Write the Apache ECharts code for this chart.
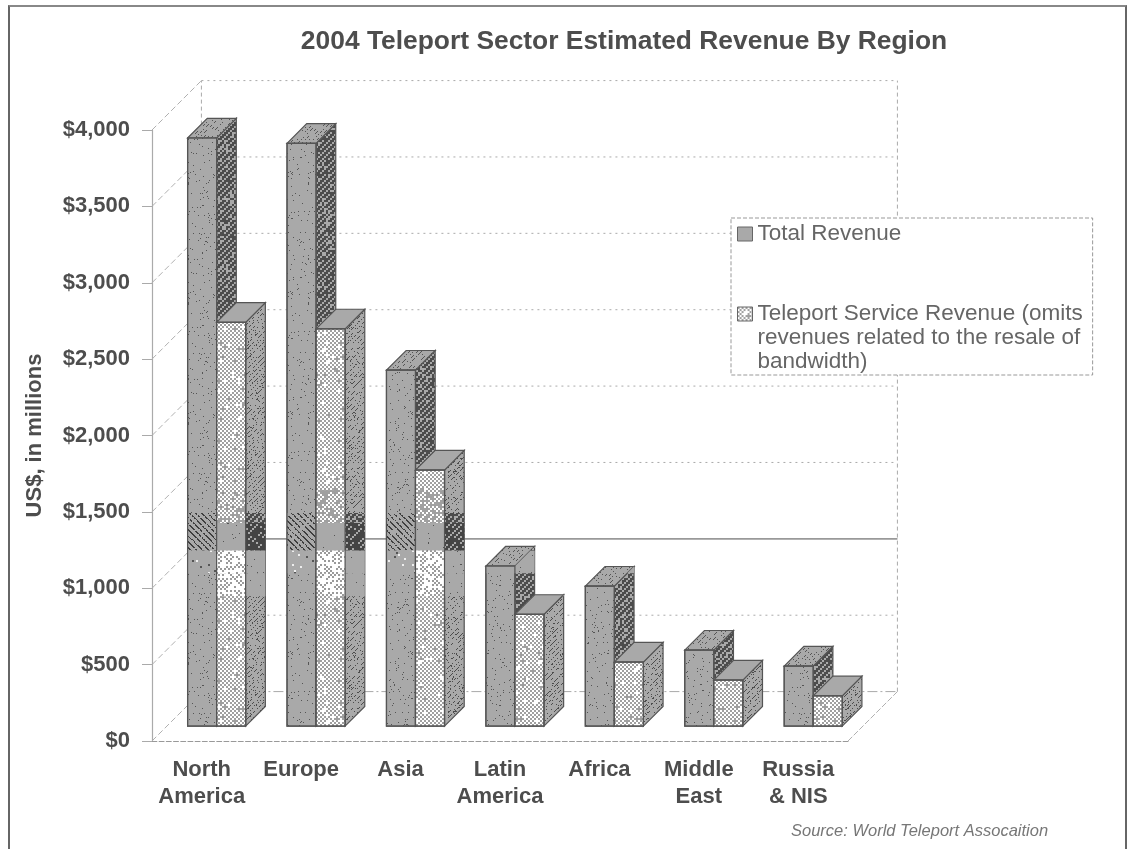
<!DOCTYPE html>
<html>
<head>
<meta charset="utf-8">
<style>
  html, body { margin: 0; padding: 0; background: #fff; overflow: hidden; }
  #frame { position: absolute; left: 8px; top: 5px; width: 1115px; height: 860px; border: 2px solid #666; border-top-color: #888; }
  #chart { position: absolute; left: 0; top: 0; width: 1127px; height: 849px; }
</style>
<script src="https://cdn.jsdelivr.net/npm/echarts@6/dist/echarts.min.js"></script>
</head>
<body>
<div id="frame"></div>
<div id="chart"></div>
<script>
// Revenue per region, US$ millions
const regions = ['North\nAmerica', 'Europe', 'Asia', 'Latin\nAmerica', 'Africa', 'Middle\nEast', 'Russia\n& NIS'];
const totalRevenue = [3850, 3815, 2330, 1047, 916, 497, 393];
const serviceRevenue = [2643, 2600, 1676, 731, 419, 301, 198];
const valueTicks = [0, 500, 1000, 1500, 2000, 2500, 3000, 3500, 4000];

const TOTAL_NAME = 'Total Revenue';
const SERVICE_NAME = '\n\nTeleport Service Revenue (omits\nrevenues related to the resale of\nbandwidth)';
const GREY = '#a9a9a9', DARK = '#4c4c4c', INK = '#555';

// Proportions of one category band used by the pseudo-3D projection
const WALL_DEPTH = 0.497, FLOOR_SHIFT = 0.15, BAR_WIDTH = 0.292, BAR_DEPTH = 0.198;

// Stippled fills in the manner of a photocopied print
function noise(x, y) {
  let h = Math.imul(x + 1, 0x9E3779B1) ^ Math.imul(y + 1, 0x85EBCA77);
  h ^= h >>> 15; h = Math.imul(h, 0xC2B2AE3D);
  h ^= h >>> 13; h = Math.imul(h, 0x27D4EB2F);
  h ^= h >>> 16;
  return (h >>> 0) / 4294967296;
}
function texture(base, cell, paint) {
  const c = document.createElement('canvas');
  c.width = c.height = 120;
  const g = c.getContext('2d');
  g.fillStyle = base;
  g.fillRect(0, 0, 120, 120);
  const n = 120 / cell;
  for (let y = 0; y < n; y++) {
    for (let x = 0; x < n; x++) {
      const col = paint(x, y, noise(x, y));
      if (col) { g.fillStyle = col; g.fillRect(x * cell, y * cell, cell, cell); }
    }
  }
  return { image: c, repeat: 'repeat' };
}
const up = (x, y, n) => (x + y) % n;
const down = (x, y, n) => (x - y + 1200) % n;

const fills = {
  totalFront: texture(GREY, 1, (x, y, r) => r < 0.03 ? INK : null),
  totalSide: texture(DARK, 2, (x, y, r) => up(x, y, 3) === 0 && r > 0.15 || r < 0.1 ? GREY : null),
  totalTop: texture(GREY, 1, (x, y, r) => up(x, y, 4) === 0 && r < 0.35 ? INK : null),
  serviceFront: texture('#fff', 2, (x, y, r) => up(x, y, 2) === 0 && r > 0.08 || r < 0.04 ? '#a0a0a0' : null),
  serviceSide: texture(GREY, 1, (x, y, r) => up(x, y, 5) === 0 && r < 0.45 ? DARK : (r > 0.97 ? DARK : null)),
  serviceTop: texture(GREY, 1, () => null),
  // toner bands across the tall bars
  totalFrontDark: texture(GREY, 1, (x, y, r) => down(x, y, 6) < 2 && r < 0.7 ? '#3f3f3f' : null),
  serviceFrontDark: texture(GREY, 1, (x, y, r) => r < 0.012 ? INK : null),
  sideDark: texture('#444', 2, (x, y, r) => up(x, y, 3) === 0 && r > 0.45 ? GREY : null),
  totalFrontLight: texture(GREY, 2, (x, y, r) => r < 0.04 ? '#eee' : r > 0.985 ? INK : null),
  serviceFrontLight: texture('#fff', 2, (x, y, r) => up(x, y, 2) === 0 && r < 0.6 ? '#9a9a9a' : null),
  sideLight: texture(GREY, 1, (x, y, r) => r < 0.01 ? INK : null),
  serviceFrontMid: texture('#fff', 2, (x, y, r) => up(x, y, 2) === 0 || r < 0.3 ? '#a0a0a0' : null)
};

// Value ranges of the toner bands, measured along a bar standing at zero
const tonerBands = [
  { from: 850, to: 1000, front: [null, 'serviceFrontLight'], side: [null, 'sideLight'] },
  { from: 1000, to: 1150, front: ['totalFrontLight', 'serviceFrontLight'], side: ['sideLight', 'sideLight'] },
  { from: 1150, to: 1330, front: ['totalFrontDark', 'serviceFrontDark'], side: ['sideDark', 'sideDark'] },
  { from: 1330, to: 1395, front: ['totalFrontDark', 'serviceFrontMid'], side: [null, 'totalSide'] },
  { from: 1395, to: 1545, front: [null, 'serviceFrontMid'], side: [null, null] }
];

function clipBand(points, top, bottom) {
  const cut = (pts, inside, limit) => {
    const out = [];
    pts.forEach((p, i) => {
      const q = pts[(i + 1) % pts.length];
      if (inside(p)) out.push(p);
      if (inside(p) !== inside(q)) {
        const t = (limit - p[1]) / (q[1] - p[1]);
        out.push([p[0] + t * (q[0] - p[0]), limit]);
      }
    });
    return out;
  };
  return cut(cut(points, p => p[1] >= top, top), p => p[1] <= bottom, bottom);
}

function poly(points, fill, stroke) {
  return {
    type: 'polygon',
    shape: { points },
    style: { fill, stroke: stroke || 'none', lineWidth: stroke ? 1.2 : 0 }
  };
}

// One projected box per category; slot 0 sits left of the band's centre line, slot 1 right of it
function renderBar(slot, frontKey, sideKey, topKey) {
  return function (params, api) {
    const band = api.size([1, 0])[0];
    const i = api.value(0);
    const centre = api.coord([i, 0]);
    const shift = band * FLOOR_SHIFT;
    const width = band * BAR_WIDTH, depth = band * BAR_DEPTH;
    const x0 = centre[0] + shift + (slot - 1) * width;
    const x1 = x0 + width;
    const yBase = centre[1] - shift;
    const yTop = api.coord([i, api.value(1)])[1] - shift;

    const front = [[x0, yTop], [x1, yTop], [x1, yBase], [x0, yBase]];
    const side = [[x1, yTop], [x1 + depth, yTop - depth], [x1 + depth, yBase - depth], [x1, yBase]];
    const top = [[x0, yTop], [x0 + depth, yTop - depth], [x1 + depth, yTop - depth], [x1, yTop]];

    const children = [
      poly(side, fills[sideKey], INK),
      poly(top, fills[topKey], INK),
      poly(front, fills[frontKey], INK)
    ];
    tonerBands.forEach(b => {
      const yA = api.coord([i, b.to])[1] - shift;
      const yB = api.coord([i, b.from])[1] - shift;
      if (b.side[slot]) {
        const s = clipBand(side, yA, yB);
        if (s.length > 2) children.push(poly(s, fills[b.side[slot]]));
      }
      if (b.front[slot]) {
        const f = clipBand(front, yA, yB);
        if (f.length > 2) children.push(poly(f, fills[b.front[slot]]));
      }
    });
    children.push({
      type: 'polygon', shape: { points: front },
      style: { fill: 'none', stroke: INK, lineWidth: 1.2 }
    });
    return { type: 'group', children };
  };
}

// Back wall, side wall and floor edges, hung off the two axes
function renderWalls(params, api) {
  const band = api.size([1, 0])[0];
  const v = api.value(1);
  const d = band * WALL_DEPTH;
  const xL = api.coord([0, v])[0] - band / 2;
  const xR = api.coord([regions.length - 1, v])[0] + band / 2;
  const y = api.coord([0, v])[1];
  const major = v === 1000;
  const soft = { stroke: '#aaa', lineWidth: 1, lineDash: [2, 4] };
  const children = [
    {
      type: 'line', shape: { x1: xL + d, y1: y - d, x2: xR + d, y2: y - d },
      style: major ? { stroke: '#999', lineWidth: 1.6 } : v === 0 ? { stroke: '#aaa', lineWidth: 1, lineDash: [10, 3, 2, 3] } : soft
    },
    {
      type: 'line', shape: { x1: xL, y1: y, x2: xL + d, y2: y - d },
      style: { stroke: '#b0b0b0', lineWidth: 1, lineDash: [6, 3] }
    }
  ];
  if (v === 0) {
    const yTop = api.coord([0, 4000])[1] - d;
    children.push(
      { type: 'line', shape: { x1: xR, y1: y, x2: xR + d, y2: y - d }, style: { stroke: '#b0b0b0', lineWidth: 1, lineDash: [6, 2] } },
      { type: 'line', shape: { x1: xR + d, y1: y - d, x2: xR + d, y2: yTop }, style: { stroke: '#aaa', lineWidth: 1, lineDash: [4, 3] } },
      { type: 'line', shape: { x1: xL + d, y1: y - d, x2: xL + d, y2: yTop }, style: { stroke: '#aaa', lineWidth: 1, lineDash: [4, 3] } }
    );
  }
  return { type: 'group', children };
}

const chart = echarts.init(document.getElementById('chart'), null, { renderer: 'canvas' });
const labelFont = 'Liberation Sans';

chart.setOption({
  animation: false,
  backgroundColor: 'transparent',
  title: [
    {
      text: '2004 Teleport Sector Estimated Revenue By Region',
      left: 619, top: 24, textAlign: 'center',
      textStyle: { fontFamily: labelFont, fontSize: 26.4, fontWeight: 'bold', color: '#4d4d4d' }
    },
    {
      text: 'Source: World Teleport Assocaition',
      left: 786, top: 818,
      textStyle: { fontFamily: labelFont, fontSize: 16.5, fontStyle: 'italic', fontWeight: 'normal', color: '#777' }
    }
  ],
  legend: {
    orient: 'vertical',
    left: 731, top: 218,
    padding: [4, 10, 1, 6],
    itemWidth: 15, itemHeight: 14, itemGap: 8,
    backgroundColor: '#fff',
    borderColor: '#999', borderWidth: 1, borderType: 'dashed',
    selectedMode: false,
    textStyle: { fontFamily: labelFont, fontSize: 22.5, lineHeight: 24, color: '#666' },
    data: [
      { name: TOTAL_NAME, icon: 'rect', itemStyle: { color: GREY, borderColor: '#666', borderWidth: 1 } },
      { name: SERVICE_NAME, icon: 'rect', itemStyle: { color: fills.serviceFront, borderColor: '#666', borderWidth: 1 } }
    ]
  },
  grid: { left: 152, top: 130, width: 696, height: 611, containLabel: false },
  xAxis: {
    type: 'category',
    data: regions,
    boundaryGap: true,
    axisLine: { lineStyle: { color: '#999', type: 'dashed', width: 1.2 } },
    axisTick: { length: 11, alignWithLabel: false, lineStyle: { color: '#999', width: 1.2 } },
    axisLabel: {
      interval: 0, margin: 15, lineHeight: 27,
      fontFamily: labelFont, fontSize: 22, fontWeight: 'bold', color: '#4d4d4d'
    }
  },
  yAxis: {
    type: 'value',
    min: 0, max: 4000, interval: 500,
    name: 'US$, in millions',
    nameLocation: 'middle',
    nameGap: 106,
    nameTextStyle: { fontFamily: labelFont, fontSize: 22, fontWeight: 'bold', color: '#4d4d4d' },
    splitLine: { show: false },
    axisLine: { show: true, lineStyle: { color: '#aaa', width: 1.2 } },
    axisTick: { show: true, length: 10, lineStyle: { color: '#aaa' } },
    axisLabel: {
      margin: 22,
      fontFamily: labelFont, fontSize: 22, fontWeight: 'bold', color: '#4d4d4d',
      formatter: v => '$' + v.toLocaleString('en-US')
    }
  },
  series: [
    {
      name: 'walls', type: 'custom', clip: false, silent: true, z: 1,
      renderItem: renderWalls,
      encode: { x: 0, y: 1 },
      data: valueTicks.map(v => [0, v])
    },
    {
      name: TOTAL_NAME, type: 'custom', clip: false, z: 2,
      itemStyle: { color: GREY },
      renderItem: renderBar(0, 'totalFront', 'totalSide', 'totalTop'),
      encode: { x: 0, y: 1 },
      data: totalRevenue.map((v, i) => [i, v])
    },
    {
      name: SERVICE_NAME, type: 'custom', clip: false, z: 3,
      itemStyle: { color: '#ddd' },
      renderItem: renderBar(1, 'serviceFront', 'serviceSide', 'serviceTop'),
      encode: { x: 0, y: 1 },
      data: serviceRevenue.map((v, i) => [i, v])
    }
  ]
});
</script>
</body>
</html>
